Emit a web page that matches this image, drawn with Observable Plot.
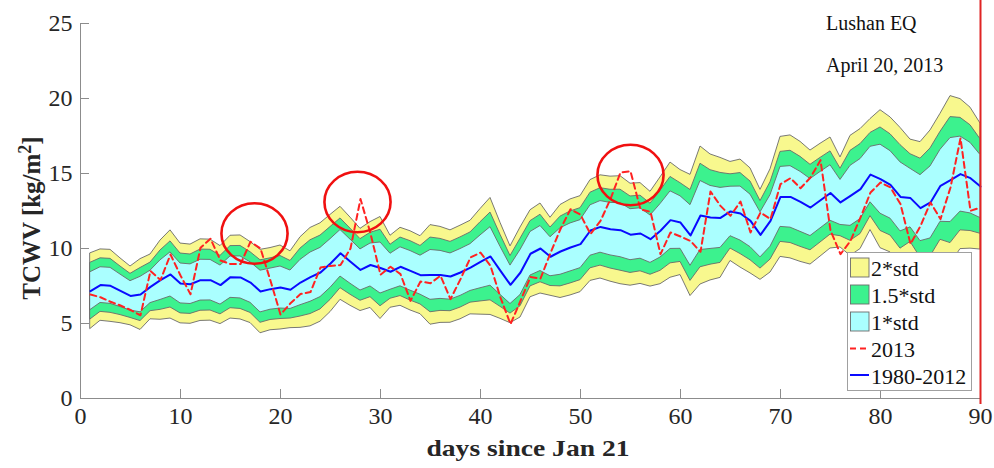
<!DOCTYPE html>
<html>
<head>
<meta charset="utf-8">
<script src="https://cdn.jsdelivr.net/npm/d3@7"></script>
<script src="https://cdn.jsdelivr.net/npm/@observablehq/plot@0.6"></script>
<style>
  body { margin: 0; background: #fff; }
  svg { display: block; }
</style>
</head>
<body>
<div id="chart"></div>
<script>
// Daily total column water vapour, days since Jan 21 (day 90 = April 20, 2013)
const days = d3.range(1, 91);

// 1980-2012 climatological mean (kg/m^2)
const mean1980_2012 = [
  7.16, 7.56, 7.51, 7.18, 6.84, 6.93, 7.44, 7.89, 8.27, 7.67,
  7.62, 7.89, 7.89, 7.56, 8.09, 8.07, 7.73, 7.13, 7.29, 7.40,
  7.25, 7.73, 8.09, 8.40, 9.00, 9.68, 9.12, 8.57, 8.90, 8.70,
  8.45, 8.78, 8.51, 8.22, 8.24, 8.24, 8.13, 8.40, 8.73, 9.11,
  9.47, 8.51, 7.58, 8.40, 9.65, 10.00, 9.45, 9.80, 10.07, 10.29,
  11.20, 11.44, 11.29, 11.22, 10.92, 11.00, 10.62, 11.18, 11.89, 11.73,
  10.87, 12.20, 12.07, 12.04, 12.47, 12.33, 11.84, 10.91, 11.84, 13.44,
  13.44, 13.11, 12.73, 13.22, 13.70, 13.07, 13.51, 13.96, 14.93, 14.62,
  14.24, 13.44, 13.36, 12.69, 13.07, 14.18, 14.56, 14.96, 14.69, 14.13
];

// 1980-2012 standard deviation (kg/m^2)
const std1980_2012 = [
  1.26, 1.19, 1.20, 1.08, 0.98, 1.18, 1.08, 1.32, 1.47, 1.33,
  1.32, 1.36, 1.35, 1.30, 1.38, 1.40, 1.35, 1.39, 1.37, 1.40,
  1.28, 1.51, 1.64, 1.64, 1.62, 1.55, 1.47, 1.37, 1.43, 1.70,
  1.20, 1.30, 1.32, 1.30, 1.66, 1.60, 1.54, 1.56, 1.56, 1.76,
  1.95, 1.60, 1.28, 1.50, 1.45, 1.50, 1.30, 1.55, 1.60, 1.60,
  1.68, 1.72, 1.75, 1.80, 1.70, 1.68, 1.58, 1.78, 1.92, 1.75,
  2.02, 2.30, 2.10, 2.00, 1.65, 1.80, 1.75, 1.50, 1.72, 2.00,
  2.05, 2.00, 1.90, 1.88, 1.85, 1.50, 2.00, 2.00, 1.85, 2.30,
  2.25, 2.30, 1.95, 2.20, 2.40, 2.40, 2.80, 2.50, 2.35, 2.10
];

// 2013 observations (kg/m^2)
const tcwv2013 = [
  6.93, 6.75, 6.45, 6.20, 5.90, 5.55, 8.50, 7.90, 9.60, 8.20,
  6.95, 10.05, 10.65, 9.20, 8.96, 8.96, 10.45, 10.00, 7.85, 5.60,
  6.35, 6.96, 7.10, 8.73, 8.84, 8.90, 10.00, 13.30, 11.00, 8.25,
  8.78, 8.29, 6.51, 7.80, 7.69, 8.18, 6.62, 7.96, 9.40, 9.73,
  8.84, 6.73, 4.96, 6.51, 8.10, 8.00, 9.70, 11.30, 12.62, 12.25,
  10.96, 11.84, 13.30, 15.07, 15.15, 12.60, 12.45, 9.62, 11.07, 10.80,
  10.50, 9.78, 13.80, 12.84, 12.18, 13.13, 11.07, 12.40, 11.96, 14.29,
  14.69, 14.02, 14.73, 15.89, 11.20, 9.62, 10.51, 12.07, 13.73, 14.40,
  14.07, 12.96, 10.30, 11.50, 13.07, 11.96, 14.07, 17.35, 12.51, 12.73
];

const xTicks = [0, 10, 20, 30, 40, 50, 60, 70, 80, 90];
const yTicks = [0, 5, 10, 15, 20, 25];

// Anomalies ringed on the chart
const circledDays = [17.4, 27.7, 55.0];
const circledValues = [11.0, 13.1, 14.9];

const eqDay = 90;
const eqLines = ["Lushan EQ", "April 20, 2013"];

const legendLabels = ["2*std", "1.5*std", "1*std", "2013", "1980-2012"];
const xLabel = "days since Jan 21";

const colors = {
  s2: "#f8f88e",
  s15: "#3cf28e",
  s1: "#aaffff",
  outline: "#6a6a6a",
  mean: "#0a0aff",
  obs: "#ff2222",
  eq: "#e02424",
  axis: "#8c8c8c"
};

const rows = days.map((day, i) => ({
  day,
  mean: mean1980_2012[i],
  std: std1980_2012[i],
  obs: tcwv2013[i]
}));
const rings = circledDays.map((d, i) => ({ day: d, value: circledValues[i] }));

const band = (k, fill) => Plot.areaY(rows, {
  x: "day",
  y1: d => d.mean - k * d.std,
  y2: d => d.mean + k * d.std,
  fill,
  stroke: colors.outline,
  strokeWidth: 0.9
});

const svg = Plot.plot({
  width: 994,
  height: 468,
  marginLeft: 80,
  marginRight: 14,
  marginTop: 23,
  marginBottom: 70,
  x: { domain: [0, 90] },
  y: { domain: [0, 25] },
  style: {
    fontFamily: "'Liberation Serif', 'Times New Roman', serif",
    fontSize: "24px",
    color: "#262626",
    background: "#ffffff"
  },
  marks: [
    band(2, colors.s2),
    band(1.5, colors.s15),
    band(1, colors.s1),
    Plot.line(rows, { x: "day", y: "mean", stroke: colors.mean, strokeWidth: 2 }),
    Plot.line(rows, { x: "day", y: "obs", stroke: colors.obs, strokeWidth: 2, strokeDasharray: "6,4" }),
    Plot.dot(rings, { x: "day", y: "value", r: 31.5, stroke: "#f01010", strokeWidth: 2.6, fill: "none" }),
    // axis lines
    Plot.ruleY([0], { stroke: colors.axis, strokeWidth: 1 }),
    Plot.ruleX([0], { stroke: colors.axis, strokeWidth: 1 }),
    // inward ticks
    Plot.tickX(xTicks, { x: d => d, stroke: colors.axis, insetTop: 366 }),
    Plot.tickY(yTicks, { y: d => d, stroke: colors.axis, insetRight: 891 }),
    Plot.axisX({ ticks: xTicks, tickSize: 0, tickPadding: 8, label: null, tickFormat: d => String(d) }),
    Plot.axisY({ ticks: yTicks, tickSize: 0, tickPadding: 8, label: null, tickFormat: d => String(d) }),
    // earthquake day
    Plot.ruleX([eqDay], { stroke: colors.eq, strokeWidth: 2, insetTop: -23, insetBottom: -6 })
  ]
});

const root = d3.select(svg);

// Draw the rings as slightly wide ellipses
root.selectAll('g[aria-label="dot"] circle').each(function () {
  const c = d3.select(this);
  const r = +c.attr("r");
  d3.select(this.parentNode).append("ellipse")
    .attr("cx", c.attr("cx"))
    .attr("cy", c.attr("cy"))
    .attr("rx", r * 1.05)
    .attr("ry", r * 0.96)
    .attr("fill", "none")
    .attr("stroke", "#f01010")
    .attr("stroke-width", 2.6);
  c.remove();
});

const serif = "'Liberation Serif', 'Times New Roman', serif";

// Axis titles
root.append("text")
  .attr("x", 528).attr("y", 456)
  .attr("text-anchor", "middle")
  .attr("font-family", serif)
  .attr("font-weight", "bold")
  .attr("font-size", 24)
  .attr("fill", "#262626")
  .attr("textLength", 203)
  .attr("lengthAdjust", "spacingAndGlyphs")
  .text(xLabel);

const yTitle = root.append("text")
  .attr("transform", "translate(40,218) rotate(-90)")
  .attr("text-anchor", "middle")
  .attr("font-family", serif)
  .attr("font-weight", "bold")
  .attr("font-size", 25)
  .attr("fill", "#262626");
yTitle.append("tspan").text("TCWV [kg/m");
yTitle.append("tspan").attr("dy", -9).attr("font-size", 18).text("2");
yTitle.append("tspan").attr("dy", 9).text("]");

// Event annotation
eqLines.forEach((t, i) => {
  root.append("text")
    .attr("x", 826).attr("y", 30 + i * 42)
    .attr("text-anchor", "start")
    .attr("font-family", serif)
    .attr("font-size", 20)
    .attr("fill", "#111")
    .text(t);
});

// Legend
const lg = root.append("g")
  .attr("font-family", serif)
  .attr("font-size", 22)
  .attr("text-anchor", "start");
lg.append("rect")
  .attr("x", 847.5).attr("y", 252.5).attr("width", 124).attr("height", 138)
  .attr("fill", "#fff").attr("stroke", "#a0a0a0").attr("stroke-width", 1);
const rowY = [267.5, 294.5, 321.5, 348.5, 375];
const swatchFill = [colors.s2, colors.s15, colors.s1];
legendLabels.forEach((label, i) => {
  const cy = rowY[i];
  if (i < 3) {
    lg.append("rect")
      .attr("x", 850.5).attr("y", cy - 9.5).attr("width", 18.5).attr("height", 19)
      .attr("fill", swatchFill[i]).attr("stroke", colors.outline).attr("stroke-width", 0.9);
  } else {
    lg.append("line")
      .attr("x1", 850).attr("x2", 869).attr("y1", cy).attr("y2", cy)
      .attr("stroke", i === 3 ? colors.obs : colors.mean)
      .attr("stroke-width", 2)
      .attr("stroke-dasharray", i === 3 ? "6,4" : null);
  }
  lg.append("text")
    .attr("x", 871).attr("y", cy + 8.5)
    .attr("text-anchor", "start")
    .attr("fill", "#111")
    .text(label);
});

document.getElementById("chart").appendChild(svg);
</script>
</body>
</html>
